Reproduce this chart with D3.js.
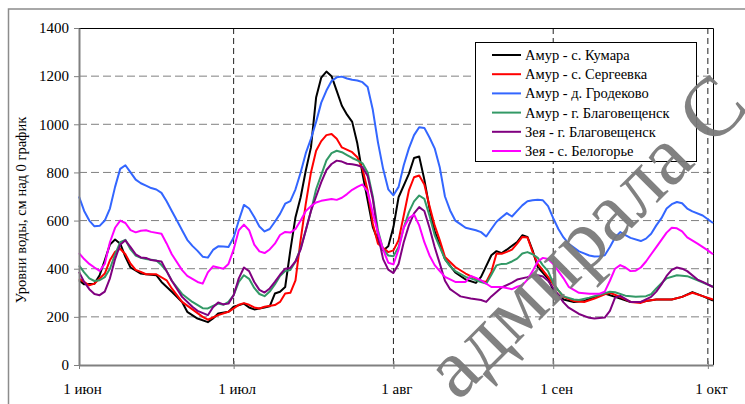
<!DOCTYPE html>
<html>
<head>
<meta charset="utf-8">
<script src="https://cdn.jsdelivr.net/npm/d3@7"></script>
<style>
  body { margin: 0; background: #fff; }
</style>
</head>
<body>
<div id="chart"></div>
<script>
// day index 0 = 1 июн
var monthDays = [0, 30, 61, 92, 122];
var monthLabels = ["1 июн", "1 июл", "1 авг", "1 сен", "1 окт"];
var yTickValues = [0, 200, 400, 600, 800, 1000, 1200, 1400];

var seriesNames = ["Амур - с. Кумара", "Амур - с. Сергеевка", "Амур - д. Гродеково",
                   "Амур - г. Благовещенск", "Зея - г. Благовещенск", "Зея - с. Белогорье"];
var seriesColors = ["#000000", "#ff0000", "#3366ff", "#339966", "#800080", "#ff00ff"];

var kumara = [[0,352],[1,335],[3,338],[4,373],[5,435],[6,500],[7,521],[8,504],[9,449],[10,405],[12,380],[13,377],
  [15,373],[16,345],[18,304],[20,262],[21,221],[23,193],[25,178],[26,193],[27,214],[29,221],[30,242],[32,255],
  [33,239],[34,231],[36,239],[37,244],[38,297],[39,304],[40,324],[41,476],[42,614],[43,697],[44,808],[45,904],
  [46,1111],[47,1194],[48,1219],[49,1200],[50,1139],[51,1077],[52,1040],[53,1010],[54,920],[55,794],[56,684],
  [57,573],[58,518],[59,476],[60,493],[61,573],[62,697],[64,794],[65,860],[66,866],[67,770],[68,650],[69,555],
  [70,500],[71,440],[73,385],[75,355],[77,341],[78,366],[80,456],[81,473],[82,465],[83,479],[85,511],[86,539],
  [87,532],[88,476],[89,407],[91,359],[92,311],[94,272],[96,262],[98,266],[100,283],[102,297],[104,283],
  [107,262],[109,262],[110,266],[112,272],[115,272],[117,283],[119,303],[121,286],[123,268]];

var sergeevka = [[0,359],[2,331],[3,338],[5,380],[6,435],[7,470],[8,483],[9,460],[10,421],[11,395],[12,387],
  [13,377],[15,377],[17,352],[18,318],[20,262],[22,231],[24,200],[25,188],[27,207],[29,221],[30,235],[31,250],
  [32,257],[33,250],[34,239],[35,235],[36,242],[38,249],[39,262],[40,297],[41,300],[42,352],[43,520],[44,670],
  [45,800],[46,890],[47,930],[48,955],[49,960],[50,940],[51,904],[53,884],[54,863],[55,815],[56,725],[57,587],
  [58,504],[60,469],[61,476],[62,518],[63,621],[64,725],[65,780],[66,787],[67,750],[68,660],[69,580],[70,518],
  [71,449],[73,407],[75,380],[77,359],[78,349],[79,345],[80,387],[81,463],[82,462],[83,470],[84,479],[85,504],
  [86,532],[87,530],[88,470],[89,420],[91,366],[92,336],[94,283],[96,266],[98,262],[100,276],[102,294],
  [103,300],[105,283],[107,262],[109,258],[110,266],[112,272],[115,272],[117,283],[119,300],[121,286],[123,272]];

var grodekovo = [[0,700],[1,640],[2,600],[3,576],[4,578],[5,600],[6,650],[7,740],[8,815],[9,830],[10,800],
  [11,770],[12,755],[13,745],[14,735],[15,729],[16,715],[17,680],[18,640],[19,600],[20,560],[21,520],[22,495],
  [23,474],[24,450],[25,446],[26,478],[27,493],[28,492],[29,490],[30,530],[31,600],[32,665],[33,650],[34,615],
  [35,575],[36,555],[37,565],[38,595],[39,628],[40,670],[41,681],[42,730],[43,800],[44,880],[45,940],[46,1010],
  [47,1090],[48,1140],[49,1180],[50,1195],[51,1198],[52,1190],[53,1185],[54,1182],[55,1175],[56,1155],
  [57,1060],[58,925],[59,815],[60,730],[61,705],[62,740],[63,830],[64,900],[65,955],[66,988],[67,985],[68,945],
  [69,900],[70,820],[71,700],[72,642],[73,600],[74,585],[75,570],[76,565],[77,560],[78,552],[79,534],[80,565],
  [81,595],[82,614],[83,631],[84,617],[85,640],[86,663],[87,680],[88,684],[89,686],[90,684],[91,660],[92,610],
  [93,565],[94,530],[95,504],[97,472],[99,455],[100,451],[101,452],[102,456],[103,490],[104,530],[105,552],
  [106,540],[107,528],[109,515],[110,525],[111,545],[112,580],[113,610],[114,650],[115,668],[116,677],
  [117,672],[118,650],[119,638],[121,621],[123,590]];

var blagAmur = [[0,414],[1,385],[2,360],[3,349],[4,352],[5,365],[6,400],[7,460],[8,510],[9,520],[10,480],
  [11,455],[12,445],[13,440],[15,434],[16,415],[17,390],[18,350],[20,295],[22,262],[24,236],[25,235],[26,245],
  [27,255],[28,250],[29,262],[30,290],[31,345],[32,373],[33,358],[34,320],[35,295],[36,286],[37,305],[38,335],
  [39,370],[40,390],[41,395],[42,430],[43,485],[44,560],[45,640],[46,730],[47,790],[48,850],[49,880],[50,890],
  [51,884],[52,872],[53,860],[54,850],[55,838],[56,800],[57,700],[58,560],[59,480],[60,455],[61,452],[62,490],
  [63,570],[64,635],[65,680],[66,704],[67,690],[68,620],[69,540],[70,490],[71,440],[72,410],[73,390],[75,366],
  [76,360],[78,345],[79,338],[80,375],[81,414],[82,420],[83,421],[84,430],[85,442],[86,463],[87,469],[88,460],
  [89,445],[90,414],[91,390],[92,340],[93,310],[94,285],[96,272],[97,270],[99,280],[101,292],[103,304],
  [104,302],[106,288],[108,284],[110,286],[111,294],[112,318],[113,340],[114,360],[116,373],[118,369],
  [120,352],[123,325]];

var blagZeya = [[0,387],[1,345],[2,315],[3,295],[4,290],[5,305],[6,360],[7,440],[8,500],[9,518],[10,490],
  [11,460],[12,447],[13,445],[14,436],[16,430],[17,390],[18,350],[20,283],[22,242],[23,225],[25,207],[26,240],
  [27,260],[28,252],[29,255],[30,290],[31,360],[32,405],[33,390],[34,345],[35,312],[36,301],[37,318],[38,345],
  [39,375],[40,400],[41,403],[42,430],[43,480],[44,560],[45,640],[46,700],[47,760],[48,810],[49,835],[50,849],
  [51,845],[52,836],[53,834],[54,830],[55,822],[56,785],[57,690],[58,540],[59,440],[60,396],[61,382],[62,420],
  [63,510],[64,580],[65,630],[66,656],[67,640],[68,570],[69,490],[70,421],[71,350],[72,315],[73,300],[74,285],
  [76,276],[78,270],[79,262],[80,285],[82,322],[84,342],[85,355],[87,365],[88,372],[89,373],[90,368],[91,350],
  [92,320],[93,290],[94,260],[95,238],[97,212],[99,196],[100,193],[102,197],[103,225],[104,280],[105,287],
  [107,262],[109,262],[111,283],[112,305],[113,335],[114,370],[115,395],[116,405],[117,400],[118,390],
  [120,355],[121,345],[123,324]];

var belogorie = [[0,465],[1,440],[2,420],[3,405],[4,391],[5,420],[6,510],[7,570],[8,600],[9,590],[10,560],
  [11,551],[12,558],[13,560],[14,553],[16,545],[17,505],[18,460],[20,394],[21,370],[23,345],[24,338],[25,385],
  [26,410],[27,405],[28,400],[29,420],[30,480],[31,560],[32,583],[33,560],[34,500],[35,472],[36,465],[37,480],
  [38,504],[39,540],[40,553],[41,550],[42,565],[43,600],[44,640],[45,660],[46,675],[47,682],[49,690],[50,686],
  [51,695],[52,710],[53,728],[54,740],[55,750],[56,720],[57,630],[58,550],[59,480],[60,425],[61,418],[62,480],
  [63,570],[64,610],[65,625],[66,580],[67,510],[68,455],[69,415],[70,390],[71,366],[73,345],[75,345],[76,370],
  [77,362],[78,352],[80,324],[82,324],[84,315],[85,325],[86,331],[87,355],[88,390],[89,430],[90,445],[91,440],
  [92,420],[93,390],[94,360],[95,325],[97,300],[99,296],[101,296],[102,305],[103,350],[104,400],[105,415],
  [106,405],[107,390],[108,392],[109,405],[110,430],[111,460],[112,490],[113,520],[114,550],[115,570],
  [116,568],[117,555],[118,530],[120,504],[122,476],[123,460]];

var allSeries = [kumara, sergeevka, grodekovo, blagAmur, blagZeya, belogorie];

var W = 745, H = 404;
var plot = {left: 79, right: 713, top: 28, bottom: 365};
var serif = "'Liberation Serif', 'Times New Roman', 'DejaVu Serif', serif";

var svg = d3.select("#chart").append("svg")
    .attr("width", W).attr("height", H);

// chart area frame (cut off on the right and bottom like the source)
svg.append("rect")
    .attr("x", 8.5).attr("y", 9)
    .attr("width", 800).attr("height", 450)
    .attr("fill", "#fff")
    .attr("stroke", "#8c8c8c")
    .attr("stroke-width", 1.5);

var x = d3.scaleLinear().domain([0, 123]).range([plot.left, plot.right]);
var y = d3.scaleLinear().domain([0, 1400]).range([plot.bottom, plot.top]);

// horizontal gridlines
svg.append("g").selectAll("line")
    .data(yTickValues.filter(function(v) { return v > 0 && v < 1400; }))
    .join("line")
    .attr("x1", plot.left).attr("x2", plot.right)
    .attr("y1", function(d) { return y(d); }).attr("y2", function(d) { return y(d); })
    .attr("stroke", "#808080")
    .attr("stroke-width", 1)
    .attr("stroke-dasharray", "8,4");

// vertical gridlines at month starts
svg.append("g").selectAll("line")
    .data(monthDays.slice(1))
    .join("line")
    .attr("x1", function(d) { return x(d); }).attr("x2", function(d) { return x(d); })
    .attr("y1", plot.top).attr("y2", plot.bottom)
    .attr("stroke", "#222")
    .attr("stroke-width", 1)
    .attr("stroke-dasharray", "6,4");

// plot border (top and right)
svg.append("path")
    .attr("d", "M" + plot.left + "," + (plot.top + 0.5) + " H" + (plot.right + 0.5) + " V" + plot.bottom)
    .attr("fill", "none")
    .attr("stroke", "#000")
    .attr("stroke-width", 1);

// series lines
var line = d3.line()
    .x(function(d) { return x(d[0]); })
    .y(function(d) { return y(d[1]); });

svg.append("g").selectAll("path")
    .data(allSeries)
    .join("path")
    .attr("d", line)
    .attr("fill", "none")
    .attr("stroke", function(d, i) { return seriesColors[i]; })
    .attr("stroke-width", 2)
    .attr("stroke-linejoin", "round");

// axes
var yAxis = svg.append("g")
    .attr("transform", "translate(" + plot.left + ",0)")
    .call(d3.axisLeft(y).tickValues(yTickValues).tickFormat(d3.format("d"))
        .tickSize(5).tickSizeOuter(0).tickPadding(5));
yAxis.select(".domain").attr("stroke", "#808080").attr("stroke-width", 2);
yAxis.selectAll(".tick line").attr("stroke", "#808080");
yAxis.selectAll(".tick text").attr("fill", "#000")
    .style("font-family", serif).style("font-size", "15px");

var xAxis = svg.append("g")
    .attr("transform", "translate(0," + plot.bottom + ")")
    .call(d3.axisBottom(x).tickValues(monthDays)
        .tickFormat(function(d, i) { return monthLabels[i]; })
        .tickSize(4).tickSizeOuter(0).tickPadding(14));
xAxis.select(".domain").attr("stroke", "#808080").attr("stroke-width", 2);
xAxis.selectAll(".tick line").attr("stroke", "#808080").attr("y1", -4);
xAxis.selectAll(".tick text").attr("fill", "#000").attr("dx", 3)
    .style("font-family", serif).style("font-size", "15px");

// y title
svg.append("text")
    .attr("transform", "translate(26,210) rotate(-90)")
    .attr("text-anchor", "middle")
    .style("font-family", serif)
    .style("font-size", "14.5px")
    .text("Уровни воды, см над 0 график");

// legend
var legend = svg.append("g");
legend.append("rect")
    .attr("x", 475.5).attr("y", 42.5)
    .attr("width", 221).attr("height", 119)
    .attr("fill", "#fff")
    .attr("stroke", "#000")
    .attr("stroke-width", 1);

var items = legend.selectAll("g.item")
    .data(seriesNames)
    .join("g")
    .attr("class", "item")
    .attr("transform", function(d, i) { return "translate(0," + (55 + i * 19.2) + ")"; });
items.append("line")
    .attr("x1", 492).attr("x2", 521)
    .attr("stroke", function(d, i) { return seriesColors[i]; })
    .attr("stroke-width", 2);
items.append("text")
    .attr("x", 525).attr("dy", "0.35em")
    .style("font-family", serif)
    .style("font-size", "14.5px")
    .text(function(d) { return d; });

// watermark
svg.append("text")
    .attr("transform", "translate(458,402) rotate(-45)")
    .attr("fill", "#7a7a7a")
    .attr("fill-opacity", 0.95)
    .style("font-family", serif)
    .style("font-size", "84px")
    .text("адмирала С");
</script>
</body>
</html>
